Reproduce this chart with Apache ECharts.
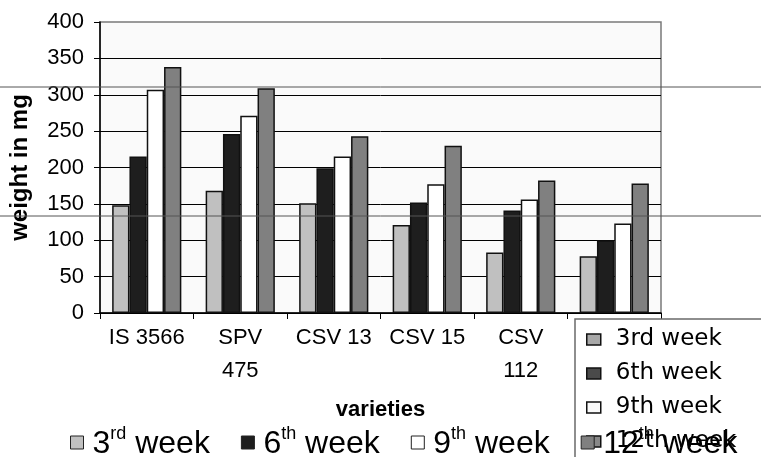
<!DOCTYPE html>
<html>
<head>
<meta charset="utf-8">
<script src="https://cdn.jsdelivr.net/npm/echarts@6/dist/echarts.min.js"></script>
<style>
  html, body { margin: 0; padding: 0; background: #fff; }
  #myBar { width: 761px; height: 457px; overflow: hidden; }
</style>
</head>
<body>
<div id="myBar"></div>
<script>
// data
var categories = ["IS 3566", "SPV\n475", "CSV 13", "CSV 15", "CSV\n112", ""];
var seriesNames = ["3rd week", "6th week", "9th week", "12th week"];
var week3 = [148, 168, 151, 121, 83, 78];
var week6 = [215, 246, 199, 152, 141, 100];
var week9 = [307, 271, 215, 177, 156, 123];
var week12 = [338, 309, 243, 230, 182, 178];
var yTicks = [0, 50, 100, 150, 200, 250, 300, 350, 400];

var barColors = ["#c0c0c0", "#1e1e1e", "#ffffff", "#808080"];
var boxIconColors = ["#a8a8a8", "#4a4a4a", "#fafafa", "#888888"];
var allData = [week3, week6, week9, week12];

var font = "Liberation Sans, Arial, sans-serif";

function makeSeries(i) {
  return {
    name: seriesNames[i],
    type: "bar",
    data: allData[i],
    barGap: "0%",
    barCategoryGap: "26%",
    itemStyle: {
      color: barColors[i],
      borderColor: "#111",
      borderWidth: 1.5
    }
  };
}

// superscript ordinal for the bottom legend
function supFormat(name) {
  var m = name.match(/^(\d+)(st|nd|rd|th) (.*)$/);
  if (!m) return name;
  return "{n|" + m[1] + "}{s|" + m[2] + "}{n| " + m[3] + "}";
}

var myBar = echarts.init(document.getElementById("myBar"));
myBar.setOption({
  animation: false,
  backgroundColor: "#ffffff",
  textStyle: { fontFamily: font },
  grid: {
    left: 99,
    right: 100,
    top: 22,
    bottom: 144,
    show: true,
    backgroundColor: "#fafafa",
    borderColor: "#7a7a7a",
    borderWidth: 1.5
  },
  legend: [
    {
      // bottom legend with superscripts
      data: seriesNames,
      left: 65,
      top: 420,
      itemWidth: 13,
      itemHeight: 13,
      itemGap: 31,
      z: 6,
      icon: "rect",
      itemStyle: { borderColor: "#222", borderWidth: 1 },
      formatter: supFormat,
      textStyle: {
        color: "#000",
        fontFamily: font,
        padding: [0, 0, 0, 4],
        rich: {
          n: { fontSize: 32, fontFamily: font, color: "#000", lineHeight: 35, verticalAlign: "bottom" },
          s: { fontSize: 18, fontFamily: font, color: "#000", lineHeight: 18, verticalAlign: "top" }
        }
      }
    },
    {
      // boxed legend, lower right (runs off the page edge)
      data: seriesNames.map(function (n, i) {
        return { name: n, itemStyle: { color: boxIconColors[i], borderColor: "#111", borderWidth: 1.5 } };
      }),
      orient: "vertical",
      left: 575,
      top: 319,
      height: 300,
      z: 3,
      icon: "rect",
      itemWidth: 14,
      itemHeight: 11,
      itemGap: 11,
      padding: [9, 130, 20, 11],
      backgroundColor: "#ffffff",
      borderColor: "#6a6a6a",
      borderWidth: 1.5,
      textStyle: {
        color: "#000",
        fontFamily: "DejaVu Sans, sans-serif",
        fontSize: 23,
        lineHeight: 21,
        padding: [0, 0, 0, 10]
      }
    }
  ],
  xAxis: {
    type: "category",
    data: categories,
    name: "varieties",
    nameLocation: "middle",
    nameGap: 86,
    nameTextStyle: { color: "#000", fontWeight: "bold", fontSize: 22, fontFamily: font },
    axisLine: { lineStyle: { color: "#000", width: 1.5 } },
    axisTick: { show: true, length: 6, lineStyle: { color: "#000" } },
    axisLabel: { color: "#000", fontSize: 22, lineHeight: 33, margin: 8, interval: 0, fontFamily: font },
    splitLine: { show: false }
  },
  yAxis: {
    type: "value",
    min: yTicks[0],
    max: yTicks[yTicks.length - 1],
    interval: 50,
    name: "weight in mg",
    nameLocation: "middle",
    nameGap: 68,
    nameTextStyle: { color: "#000", fontWeight: "bold", fontSize: 24, fontFamily: font },
    axisLine: { show: true, lineStyle: { color: "#000", width: 1.5 } },
    axisTick: { show: true, length: 6, lineStyle: { color: "#000" } },
    axisLabel: { color: "#000", fontSize: 22, margin: 16, fontFamily: font },
    splitLine: { show: true, showMaxLine: false, lineStyle: { color: "#000", width: 1 } }
  },
  // two stray rules that cross the whole page in the scan
  graphic: [
    { type: "line", z: 100, shape: { x1: 0, y1: 87, x2: 761, y2: 87 }, style: { stroke: "#555", lineWidth: 1 } },
    { type: "line", z: 100, shape: { x1: 0, y1: 216, x2: 761, y2: 216 }, style: { stroke: "#555", lineWidth: 1 } }
  ],
  series: [0, 1, 2, 3].map(makeSeries)
});
</script>
</body>
</html>
